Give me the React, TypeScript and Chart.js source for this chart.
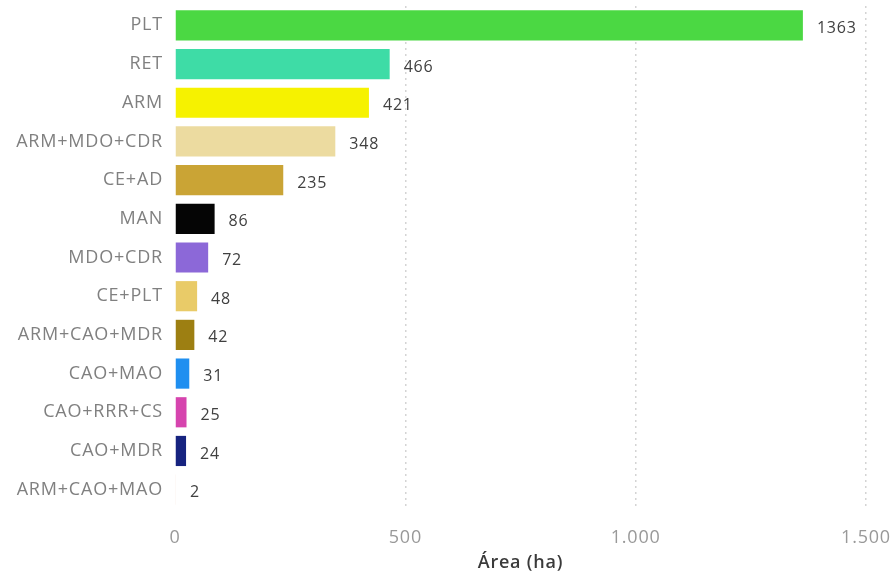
import React, { useEffect, useRef } from "react";
import { Chart, registerables } from "chart.js";

Chart.register(...registerables);

const categories = [
  "PLT",
  "RET",
  "ARM",
  "ARM+MDO+CDR",
  "CE+AD",
  "MAN",
  "MDO+CDR",
  "CE+PLT",
  "ARM+CAO+MDR",
  "CAO+MAO",
  "CAO+RRR+CS",
  "CAO+MDR",
  "ARM+CAO+MAO",
];

const areaValues = [1363, 466, 421, 348, 235, 86, 72, 48, 42, 31, 25, 24, 2];

const barColors = [
  "#4bd843",
  "#3edca6",
  "#f6f200",
  "#ecdba0",
  "#caa435",
  "#050505",
  "#8c68d8",
  "#e9cb68",
  "#9d7f12",
  "#1f8ff0",
  "#d644ae",
  "#16237f",
  "#f3dccd",
];

const xTicks = [0, 500, 1000, 1500];
const xTitle = "Área (ha)";

const fmt = (v: number) => String(v).replace(/\B(?=(\d{3})+(?!\d))/g, ".");

const spacing = {
  id: "spacing",
  beforeInit(chart: any) {
    chart.ctx.letterSpacing = "0.8px";
  },
  beforeDraw(chart: any) {
    chart.ctx.letterSpacing = "0.8px";
  },
};

const valueLabels = {
  id: "valueLabels",
  afterDatasetsDraw(chart: any) {
    const ctx = chart.ctx;
    const meta = chart.getDatasetMeta(0);
    ctx.save();
    ctx.font = "16px 'Open Sans'";
    ctx.fillStyle = "#404040";
    ctx.textAlign = "left";
    ctx.textBaseline = "middle";
    meta.data.forEach((bar: any, i: number) => {
      ctx.fillText(String(areaValues[i]), bar.x + 14, bar.y + 3);
    });
    ctx.restore();
  },
};

export default function App() {
  const ref = useRef<HTMLCanvasElement | null>(null);
  useEffect(() => {
    if (!ref.current) return;
    const chart = new Chart(ref.current, {
      type: "bar",
      data: {
        labels: categories,
        datasets: [
          {
            data: areaValues,
            backgroundColor: barColors,
            barPercentage: 0.78,
            categoryPercentage: 1,
          },
        ],
      },
      plugins: [spacing, valueLabels],
      options: {
        indexAxis: "y",
        animation: false,
        responsive: false,
        layout: { padding: { top: 6, right: 26, left: 0, bottom: 0 } },
        plugins: { legend: { display: false }, tooltip: { enabled: false } },
        scales: {
          x: {
            min: 0,
            max: 1500,
            afterBuildTicks: (scale: any) => {
              scale.ticks = xTicks.map((v) => ({ value: v }));
            },
            afterFit: (scale: any) => {
              scale.height = 68;
              scale.paddingLeft = 0;
              scale.paddingRight = 0;
            },
            border: { display: false, dash: [2, 4] },
            grid: {
              drawTicks: false,
              color: (c: any) => (c.tick && c.tick.value === 0 ? "rgba(0,0,0,0)" : "#d4d4d4"),
              lineWidth: 1.5,
            },
            ticks: {
              padding: 18,
              color: "#999999",
              font: { family: "'Open Sans'", size: 18 },
              callback: (v: any) => fmt(Number(v)),
            },
            title: {
              display: true,
              text: xTitle,
              color: "#3a3a3a",
              font: { family: "'Open Sans'", size: 18, weight: "600" },
              padding: { top: 0, bottom: 3 },
            },
          } as any,
          y: {
            afterFit: (scale: any) => {
              scale.width = 175;
              scale.paddingTop = 0;
              scale.paddingBottom = 0;
            },
            border: { display: false },
            grid: { display: false, drawTicks: false },
            ticks: {
              padding: 12,
              color: "#808080",
              font: { family: "'Open Sans'", size: 18 },
            },
          },
        },
      },
    });
    return () => chart.destroy();
  }, []);
  return (
    <div style={{ position: "absolute", left: 0, top: 0, width: 892, height: 577, background: "#fff" }}>
      <canvas ref={ref} width={892} height={577} />
    </div>
  );
}
